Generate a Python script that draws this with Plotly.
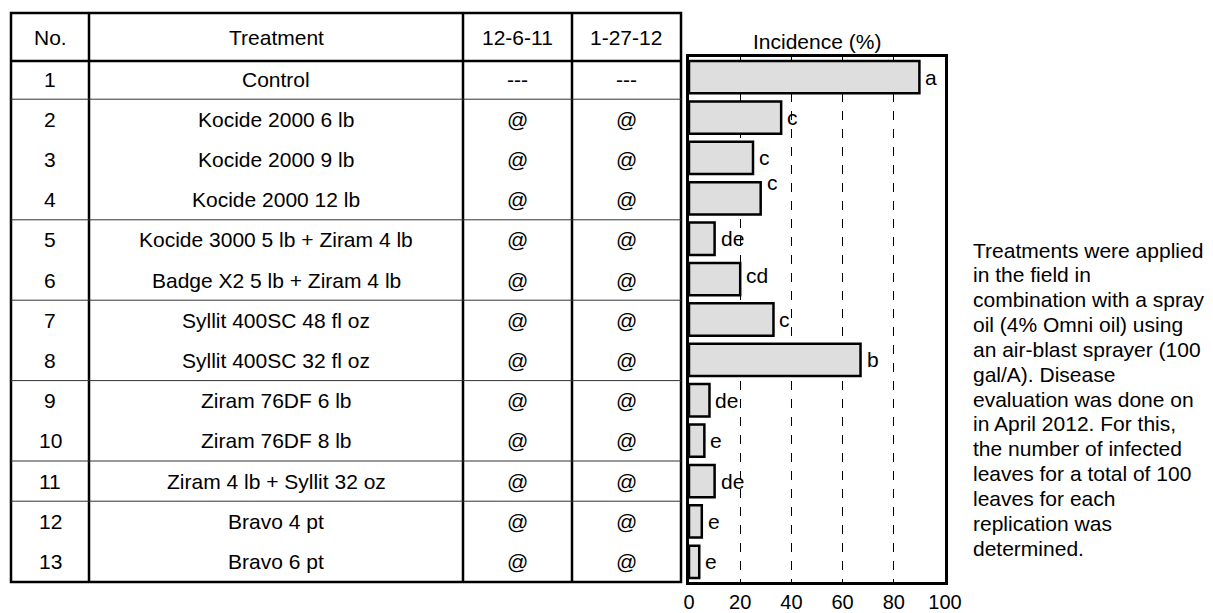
import plotly.graph_objects as go

# ---------------- data ----------------
nos = list(range(1, 14))
treatments = [
    "Control", "Kocide 2000 6 lb", "Kocide 2000 9 lb", "Kocide 2000 12 lb",
    "Kocide 3000 5 lb + Ziram 4 lb", "Badge X2 5 lb + Ziram 4 lb",
    "Syllit 400SC 48 fl oz", "Syllit 400SC 32 fl oz", "Ziram 76DF 6 lb",
    "Ziram 76DF 8 lb", "Ziram 4 lb + Syllit 32 oz", "Bravo 4 pt", "Bravo 6 pt",
]
header_labels = ["No.", "Treatment", "12-6-11", "1-27-12"]
app_dec = ["---"] + ["@"] * 12
app_jan = ["---"] + ["@"] * 12
incidence = [90, 36, 25, 28, 10, 20, 33, 67, 8, 6, 10, 5, 4]
letters = ["a", "c", "c", "c", "de", "cd", "c", "b", "de", "e", "de", "e", "e"]
group_ends = [1, 4, 6, 8, 10, 11]
x_ticks = [0, 20, 40, 60, 80, 100]
chart_title = "Incidence (%)"
note_lines = [
    "Treatments were applied", "in the field in", "combination with a spray",
    "oil (4% Omni oil) using", "an air-blast sprayer (100", "gal/A). Disease",
    "evaluation was done on", "in April 2012. For this,", "the number of infected",
    "leaves for a total of 100", "leaves for each", "replication was", "determined.",
]

# ---------------- layout constants (pixels) ----------------
W, H = 1213, 613
PL, PR, PT, PB = 689, 945, 57, 582          # bar plot area
TL, TR, TT, TB = 11, 681, 13, 582           # table frame
HEADER_B = 61
ROW_TOP, ROW_H = 59, 40.2
COL_X = [11, 89, 463, 572, 681]
label_yshift = [0, 0, 0, 16, 0, 4, 0, 0, 0, 0, 0, 0, 0]
FONT = "Liberation Sans, Arial, sans-serif"


def px(x):
    return x / W


def py(y):
    return 1 - y / H


fig = go.Figure()
fig.add_trace(go.Bar(
    x=incidence, y=nos, orientation="h", width=0.8,
    marker=dict(color="#dedede", line=dict(color="black", width=2.5)),
    hoverinfo="skip", showlegend=False,
))

shapes = []
annotations = []

# table frame & column lines
shapes.append(dict(type="rect", xref="paper", yref="paper",
                   x0=px(TL), x1=px(TR), y0=py(TT), y1=py(TB),
                   line=dict(color="black", width=2.5)))
for cx in COL_X[1:-1]:
    shapes.append(dict(type="line", xref="paper", yref="paper",
                       x0=px(cx), x1=px(cx), y0=py(TT), y1=py(TB),
                       line=dict(color="black", width=2.5)))
shapes.append(dict(type="line", xref="paper", yref="paper",
                   x0=px(TL), x1=px(TR), y0=py(HEADER_B), y1=py(HEADER_B),
                   line=dict(color="black", width=2.5)))
for k in group_ends:
    yy = ROW_TOP + k * ROW_H
    shapes.append(dict(type="line", xref="paper", yref="paper",
                       x0=px(TL), x1=px(TR), y0=py(yy), y1=py(yy),
                       line=dict(color="#333333", width=1)))

col_centers = [(COL_X[i] + COL_X[i + 1]) / 2 for i in range(4)]
tfont = dict(family=FONT, size=21, color="black")

# header
for c, lab in zip(col_centers, header_labels):
    annotations.append(dict(xref="paper", yref="paper", x=px(c), y=py(38),
                            text=lab, showarrow=False, xanchor="center",
                            yanchor="middle", font=tfont))
# body
for i in range(len(nos)):
    yc = ROW_TOP + (i + 0.5) * ROW_H
    for c, val in zip(col_centers, [str(nos[i]), treatments[i], app_dec[i], app_jan[i]]):
        annotations.append(dict(xref="paper", yref="paper", x=px(c), y=py(yc),
                                text=val, showarrow=False, xanchor="center",
                                yanchor="middle", font=tfont))

# significance letters
for v, n, lt, ys in zip(incidence, nos, letters, label_yshift):
    annotations.append(dict(xref="x", yref="y", x=v, y=n, text=lt,
                            showarrow=False, xanchor="left", yanchor="middle",
                            xshift=4, yshift=ys, font=tfont))

# chart title
annotations.append(dict(xref="paper", yref="paper", x=px(817), y=py(41),
                        text=chart_title, showarrow=False, xanchor="center",
                        yanchor="middle", font=tfont))

# note text
for j, line in enumerate(note_lines):
    annotations.append(dict(xref="paper", yref="paper", x=px(971),
                            y=py(250 + j * 24.85), text=line, showarrow=False,
                            xanchor="left", yanchor="middle",
                            font=dict(family=FONT, size=21, color="black")))

fig.update_layout(
    width=W, height=H, autosize=False,
    margin=dict(l=0, r=0, t=0, b=0, autoexpand=False),
    paper_bgcolor="white", plot_bgcolor="white",
    shapes=shapes, annotations=annotations,
    bargap=0.2,
    xaxis=dict(domain=[px(PL), px(PR)], range=[0, 100], tickvals=x_ticks,
               showgrid=True, gridcolor="black", griddash="dash", gridwidth=1,
               showline=True, mirror=True, linecolor="black", linewidth=2.5,
               ticks="", zeroline=False, fixedrange=True,
               tickfont=dict(family=FONT, size=20, color="black")),
    yaxis=dict(domain=[py(PB), py(PT)], range=[13.5, 0.5], showticklabels=False,
               showgrid=False, zeroline=False, showline=True, mirror=True,
               linecolor="black", linewidth=2.5, ticks="", fixedrange=True),
)

fig.write_html(
    "out.html",
    config={"responsive": False, "displayModeBar": False},
    default_width="1213px",
    default_height="613px",
    post_script="document.body.style.margin='0';document.body.style.overflow='hidden';",
)
